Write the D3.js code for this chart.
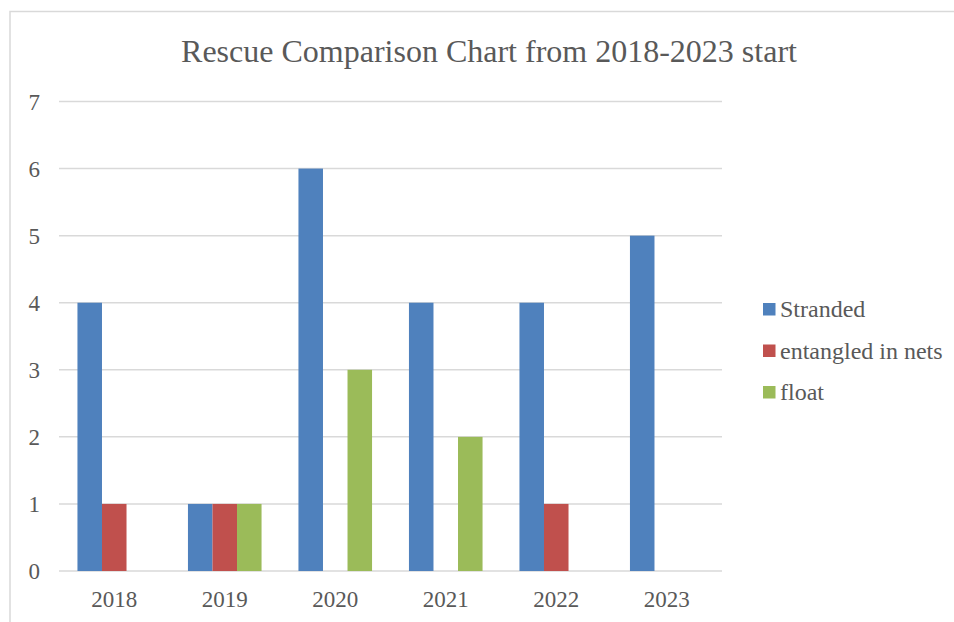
<!DOCTYPE html>
<html>
<head>
<meta charset="utf-8">
<title>Rescue Comparison Chart</title>
<script src="https://d3js.org/d3.v7.min.js"></script>
<style>
  body { margin: 0; background: #fff; }
</style>
</head>
<body>
<script>
// data
var years = ["2018", "2019", "2020", "2021", "2022", "2023"];
var seriesNames = ["Stranded", "entangled in nets", "float"];
var stranded = [4, 1, 6, 4, 4, 5];
var entangled = [1, 1, 0, 0, 1, 0];
var floatVals = [0, 1, 3, 2, 0, 0];
var yTicks = [0, 1, 2, 3, 4, 5, 6, 7];
var colors = ["#4f81bd", "#c0504d", "#9bbb59"];

var W = 954, H = 622;
var plot = {left: 59, right: 722, top: 101.5, bottom: 571};
var font = "Liberation Serif";
var textColor = "#595959";

var svg = d3.select("body").append("svg")
    .attr("width", W)
    .attr("height", H);

// chart border (cropped at right/bottom like the source)
svg.append("path")
    .attr("d", "M10," + H + " V11.5 H" + W)
    .attr("fill", "none")
    .attr("stroke", "#d9d9d9")
    .attr("stroke-width", 1.5);

var x0 = d3.scaleBand()
    .domain(years)
    .range([plot.left, plot.right])
    .paddingInner(0.334)
    .paddingOuter(0.167);

var x1 = d3.scaleBand()
    .domain(seriesNames)
    .range([0, x0.bandwidth()]);

var y = d3.scaleLinear()
    .domain([0, 7])
    .range([plot.bottom, plot.top]);

// gridlines
svg.append("g").selectAll("line")
    .data(yTicks)
    .enter().append("line")
    .attr("x1", plot.left)
    .attr("x2", plot.right)
    .attr("y1", function (d) { return y(d); })
    .attr("y2", function (d) { return y(d); })
    .attr("stroke", "#d9d9d9")
    .attr("stroke-width", 1.5);

// y labels
svg.append("g").selectAll("text")
    .data(yTicks)
    .enter().append("text")
    .attr("x", 40)
    .attr("y", function (d) { return y(d); })
    .attr("dy", "0.35em")
    .attr("text-anchor", "end")
    .attr("font-family", font)
    .attr("fill", textColor)
    .attr("font-size", 23)
    .text(function (d) { return d; });

// bars
var rows = years.map(function (yr, i) {
    return {year: yr, vals: [stranded[i], entangled[i], floatVals[i]]};
});

var groups = svg.append("g").selectAll("g")
    .data(rows)
    .enter().append("g")
    .attr("transform", function (d) { return "translate(" + x0(d.year) + ",0)"; });

groups.selectAll("rect")
    .data(function (d) {
        return d.vals.map(function (v, j) { return {name: seriesNames[j], value: v, idx: j}; });
    })
    .enter().append("rect")
    .attr("x", function (d) { return x1(d.name); })
    .attr("width", x1.bandwidth())
    .attr("y", function (d) { return y(d.value); })
    .attr("height", function (d) { return y(0) - y(d.value); })
    .attr("fill", function (d) { return colors[d.idx]; });

// x labels
svg.append("g").selectAll("text")
    .data(years)
    .enter().append("text")
    .attr("x", function (d) { return x0(d) + x0.bandwidth() / 2; })
    .attr("y", 607)
    .attr("text-anchor", "middle")
    .attr("font-family", font)
    .attr("fill", textColor)
    .attr("font-size", 23)
    .text(function (d) { return d; });

// title
svg.append("text")
    .attr("x", 489)
    .attr("y", 62)
    .attr("text-anchor", "middle")
    .attr("font-family", font)
    .attr("fill", textColor)
    .attr("font-size", 32)
    .text("Rescue Comparison Chart from 2018-2023 start");

// legend
var legendY = [309, 350.5, 392];
var legend = svg.append("g").selectAll("g")
    .data(seriesNames)
    .enter().append("g")
    .attr("transform", function (d, i) { return "translate(763," + legendY[i] + ")"; });

legend.append("rect")
    .attr("x", 0)
    .attr("y", -6)
    .attr("width", 12.5)
    .attr("height", 12.5)
    .attr("fill", function (d, i) { return colors[i]; });

legend.append("text")
    .attr("x", 17)
    .attr("y", 0)
    .attr("dy", "0.35em")
    .attr("font-family", font)
    .attr("fill", textColor)
    .attr("font-size", 24)
    .text(function (d) { return d; });
</script>
</body>
</html>
